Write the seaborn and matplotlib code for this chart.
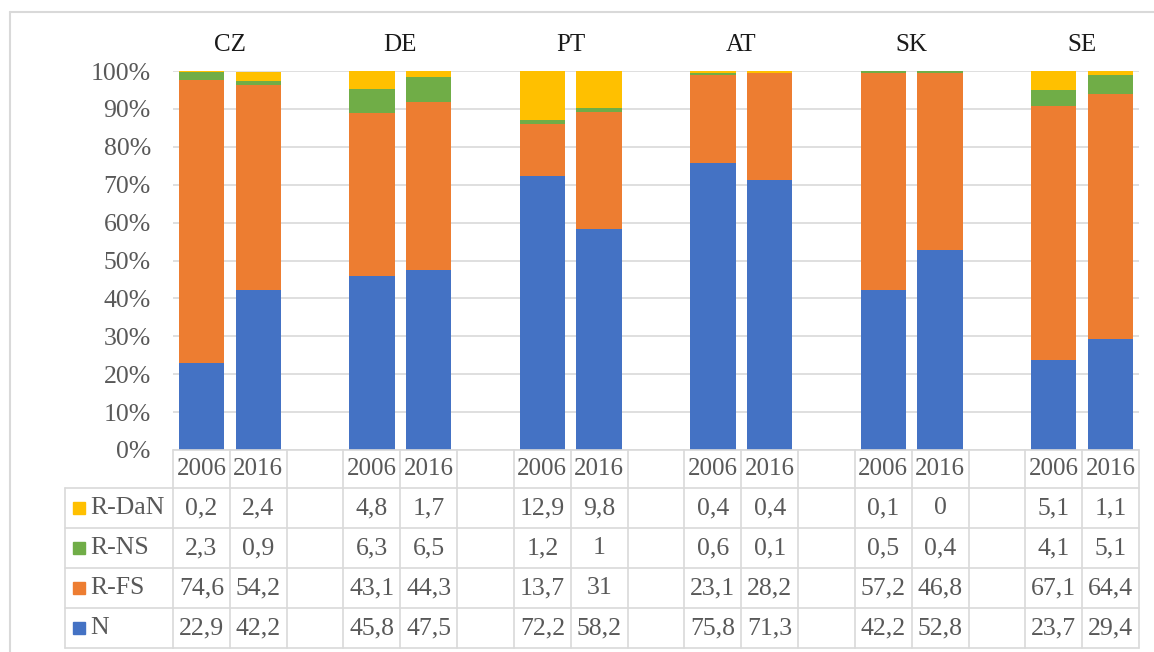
import numpy as np
import pandas as pd
import matplotlib
matplotlib.use("Agg")
import matplotlib.pyplot as plt
import seaborn as sns
from matplotlib import transforms
from matplotlib.lines import Line2D

# Data: share of each category (%) per country and year
countries = ["CZ", "DE", "PT", "AT", "SK", "SE"]
years = ["2006", "2016"]
series = ["R-DaN", "R-NS", "R-FS", "N"]  # table order, top to bottom
r_dan = [0.2, 2.4, 4.8, 1.7, 12.9, 9.8, 0.4, 0.4, 0.1, 0, 5.1, 1.1]
r_ns = [2.3, 0.9, 6.3, 6.5, 1.2, 1, 0.6, 0.1, 0.5, 0.4, 4.1, 5.1]
r_fs = [74.6, 54.2, 43.1, 44.3, 13.7, 31, 23.1, 28.2, 57.2, 46.8, 67.1, 64.4]
n_vals = [22.9, 42.2, 45.8, 47.5, 72.2, 58.2, 75.8, 71.3, 42.2, 52.8, 23.7, 29.4]

colors = {"R-DaN": "#FFC000", "R-NS": "#70AD47", "R-FS": "#ED7D31", "N": "#4472C4"}
values = {"R-DaN": r_dan, "R-NS": r_ns, "R-FS": r_fs, "N": n_vals}

sns.set_theme(style="white")
plt.rcParams["font.family"] = ["Liberation Serif", "DejaVu Serif"]

W, H = 1154, 652
fig = plt.figure(figsize=(W / 100, H / 100), dpi=100)
fig.patch.set_facecolor("white")

def fx(px):
    return px / W

def fy(py):
    return 1 - py / H

ax = fig.add_axes([fx(173), fy(450), fx(1139) - fx(173), fy(71) - fy(450)])

# Each country takes two slots plus one empty gap slot
rows = []
for i, c in enumerate(countries):
    for j, yr in enumerate(years):
        k = 2 * i + j
        rows.append({"country": c, "year": yr, "pos": 3 * i + j,
                     **{s: values[s][k] for s in series}})
df = pd.DataFrame(rows)

# Cumulative stack from bottom (N) to top (R-DaN)
stack_order = ["N", "R-FS", "R-NS", "R-DaN"]
cum = np.zeros(len(df))
tops = {}
for s in stack_order:
    cum = cum + df[s].to_numpy()
    tops[s] = cum.copy()

for s in reversed(stack_order):
    d = df.assign(top=tops[s])
    sns.barplot(data=d, x="pos", y="top", native_scale=True, orient="x",
                width=0.8, color=colors[s], saturation=1, errorbar=None,
                linewidth=0, ax=ax, zorder=2)

n_slots = 3 * len(countries) - 1
ax.set_xlim(-0.5, n_slots - 0.5)
ax.set_ylim(0, 100)
ax.set_yticks(np.arange(0, 101, 10))
ax.set_yticklabels([f"{v}%" for v in range(0, 101, 10)])
ax.set_xticks([])
ax.set_xlabel("")
ax.set_ylabel("")
ax.tick_params(axis="y", length=0, pad=16, labelsize=18.5, labelcolor="#595959")
ax.yaxis.grid(True, color="#d9d9d9", linewidth=1.2, zorder=0)
ax.set_axisbelow(True)
for sp in ax.spines.values():
    sp.set_visible(False)

# Country labels above each pair
tr = transforms.blended_transform_factory(ax.transData, fig.transFigure)
for i, c in enumerate(countries):
    ax.text(3 * i + 0.5, fy(45), c, transform=tr, ha="center", va="center",
            fontsize=18, color="#1a1a1a")

# Data table below the plot
line_c = "#d9d9d9"
row_edges = [450, 488, 528, 568, 608, 648]
x_edges = np.arange(-0.5, n_slots, 1.0)
x_right = n_slots - 0.5

# horizontal rules
ax.add_line(Line2D([-0.5, x_right], [fy(450)] * 2, transform=tr, color=line_c,
                   lw=1.2, clip_on=False))
left_px = 65
for yp in row_edges[1:]:
    fig.add_artist(Line2D([fx(left_px), fx(173)], [fy(yp)] * 2, color=line_c, lw=1.2))
    ax.add_line(Line2D([-0.5, x_right], [fy(yp)] * 2, transform=tr, color=line_c,
                       lw=1.2, clip_on=False))
# vertical rules
for xe in x_edges:
    ax.add_line(Line2D([xe, xe], [fy(450), fy(648)], transform=tr, color=line_c,
                       lw=1.2, clip_on=False))
fig.add_artist(Line2D([fx(left_px)] * 2, [fy(488), fy(648)], color=line_c, lw=1.2))

txt_c = "#595959"
for _, r in df.iterrows():
    ax.text(r["pos"], fy(469), r["year"], transform=tr, ha="center", va="center",
            fontsize=18, color=txt_c, clip_on=False)
    for k, s in enumerate(series):
        yc = (row_edges[k + 1] + row_edges[k + 2]) / 2
        v = r[s]
        label = (f"{v:g}").replace(".", ",")
        ax.text(r["pos"], fy(yc), label, transform=tr, ha="center", va="center",
                fontsize=18.5, color=txt_c, clip_on=False)

# Legend keys inside the table's first column
for k, s in enumerate(series):
    yc = (row_edges[k + 1] + row_edges[k + 2]) / 2
    fig.add_artist(Line2D([fx(79)], [fy(yc)], marker="s", markersize=8.5,
                          color=colors[s], linestyle="none"))
    fig.text(fx(90), fy(yc), s, ha="left", va="center", fontsize=18.5, color=txt_c)

# Chart frame
fig.add_artist(Line2D([fx(10), 1.0], [fy(12)] * 2, color=line_c, lw=1.5))
fig.add_artist(Line2D([fx(10)] * 2, [fy(12), 0.0], color=line_c, lw=1.5))

fig.savefig("out.png", dpi=100, facecolor="white")
